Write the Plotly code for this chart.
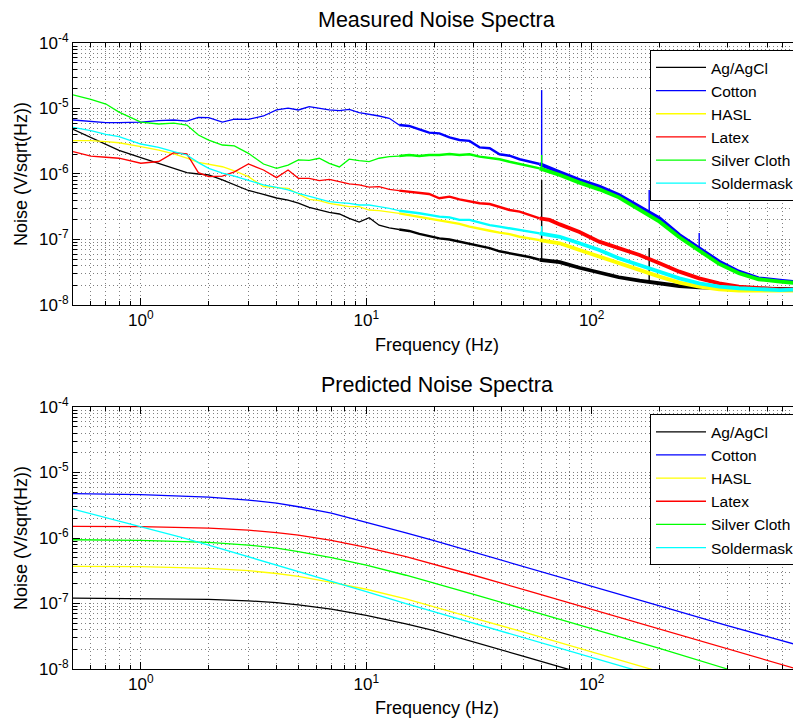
import plotly.graph_objects as go

# measured spectra, frequency grid shared by all materials (Hz)
F_MEAS = [0.5, 0.6, 0.7, 0.8, 1.0, 1.2, 1.4, 1.6, 1.8, 2.0, 2.3, 2.6, 3.0, 3.5, 4.0, 4.5, 5.0, 5.58,
          6.19, 6.85, 7.6, 8.4, 9.3, 10.3, 11.4, 12.65, 14.0, 15.5, 17.2, 19.0, 21.1, 23.4, 25.9,
          28.7, 31.8, 35.3, 39.0, 43.2, 47.9, 52.9, 58.8, 65.0, 72.2, 88.3, 108, 132, 163, 200,
          245, 300, 368, 450, 550, 685, 840]

AGAGCL_MEAS = [4.81e-6, 3.6e-6, 2.8e-6, 2.3e-6, 1.78e-6, 1.46e-6, 1.22e-6, 1.05e-6, 1.0e-6, 9.7e-7,
               8.1e-7, 6.8e-7, 5.6e-7, 4.9e-7, 4.3e-7, 4.0e-7, 3.6e-7, 3.1e-7,
               2.8e-7, 2.6e-7, 2.45e-7, 2.1e-7, 1.85e-7, 2.15e-7, 1.65e-7, 1.5e-7, 1.42e-7, 1.35e-7,
               1.22e-7, 1.14e-7, 1.04e-7, 1.0e-7, 9.3e-8, 8.6e-8, 8.0e-8, 7.4e-8, 6.6e-8, 6.2e-8,
               5.7e-8, 5.4e-8, 4.9e-8, 4.75e-8, 4.5e-8, 3.7e-8, 3.1e-8, 2.65e-8, 2.35e-8, 2.15e-8,
               1.95e-8, 1.86e-8, 1.8e-8, 1.8e-8, 1.78e-8, 1.73e-8, 1.73e-8]
COTTON_MEAS = [6.67e-6, 6.29e-6, 6.08e-6, 6.08e-6, 6.2e-6, 6.52e-6, 6.67e-6, 6.4e-6, 7.33e-6, 7.25e-6,
               6.2e-6, 6.9e-6, 6.83e-6, 7.68e-6, 9.49e-6, 1.01e-5, 9.49e-6, 1.07e-5,
               1.01e-5, 9.5e-6, 9.27e-6, 9.7e-6, 8.63e-6, 8.24e-6, 7.68e-6, 7.08e-6, 5.6e-6, 5.41e-6,
               4.81e-6, 4.28e-6, 4.18e-6, 3.63e-6, 3.3e-6, 3.2e-6, 2.55e-6, 2.47e-6, 2.0e-6, 1.9e-6,
               1.68e-6, 1.54e-6, 1.42e-6, 1.22e-6, 1.06e-6, 8.1e-7, 6.41e-7, 4.78e-7, 3.17e-7, 2.1e-7,
               1.17e-7, 7.33e-8, 4.59e-8, 3.23e-8, 2.55e-8, 2.35e-8, 2.19e-8]
HASL_MEAS = [3.23e-6, 3.23e-6, 3.11e-6, 3.0e-6, 2.61e-6, 2.32e-6, 2.02e-6, 1.75e-6, 1.5e-6, 1.42e-6,
             1.29e-6, 1.12e-6, 9.1e-7, 6.4e-7, 6.26e-7, 6.05e-7, 4.95e-7, 4.1e-7,
             3.92e-7, 3.57e-7, 3.36e-7, 3.17e-7, 3.17e-7, 2.82e-7, 2.75e-7, 2.66e-7, 2.51e-7, 2.37e-7,
             2.23e-7, 2.1e-7, 1.99e-7, 1.87e-7, 1.73e-7, 1.57e-7, 1.48e-7, 1.36e-7, 1.27e-7, 1.21e-7,
             1.1e-7, 1.04e-7, 9.8e-8, 9.27e-8, 8.75e-8, 6.92e-8, 5.47e-8, 4.33e-8, 3.42e-8, 2.71e-8,
             2.19e-8, 1.9e-8, 1.73e-8, 1.66e-8, 1.66e-8, 1.66e-8, 1.66e-8]
LATEX_MEAS = [2.19e-6, 1.88e-6, 1.8e-6, 1.74e-6, 1.46e-6, 1.55e-6, 2.11e-6, 2.02e-6, 1.05e-6, 9.1e-7,
              9.3e-7, 1.08e-6, 1.42e-6, 1.15e-6, 8.8e-7, 1.15e-6, 8.6e-7, 8.6e-7,
              7.91e-7, 8.3e-7, 7.64e-7, 7.04e-7, 6.8e-7, 6.3e-7, 6.41e-7, 5.83e-7, 5.57e-7, 5.37e-7,
              5.19e-7, 4.95e-7, 4.26e-7, 4.51e-7, 4.1e-7, 3.78e-7, 3.57e-7, 3.48e-7, 3.1e-7, 2.82e-7,
              2.66e-7, 2.37e-7, 2.1e-7, 1.99e-7, 1.7e-7, 1.3e-7, 9.27e-8, 7.33e-8, 5.8e-8, 4.33e-8,
              3.23e-8, 2.55e-8, 2.14e-8, 1.9e-8, 1.8e-8, 1.73e-8, 1.73e-8]
SILVER_MEAS = [1.61e-5, 1.38e-5, 1.17e-5, 8.8e-6, 6.2e-6, 5.8e-6, 6.0e-6, 5.6e-6, 3.94e-6, 3.3e-6,
               2.77e-6, 2.68e-6, 2.07e-6, 1.42e-6, 1.22e-6, 1.37e-6, 1.64e-6, 1.61e-6,
               1.74e-6, 1.45e-6, 1.28e-6, 1.68e-6, 1.6e-6, 1.54e-6, 1.74e-6, 1.84e-6, 1.88e-6, 1.95e-6,
               1.88e-6, 1.95e-6, 1.95e-6, 2.02e-6, 1.95e-6, 2.0e-6, 1.84e-6, 1.74e-6, 1.68e-6, 1.54e-6,
               1.42e-6, 1.32e-6, 1.22e-6, 1.09e-6, 9.66e-7, 7.38e-7, 5.83e-7, 4.4e-7, 2.89e-7, 1.87e-7,
               1.08e-7, 6.75e-8, 4.23e-8, 3.05e-8, 2.47e-8, 2.27e-8, 2.14e-8]
SOLDER_MEAS = [5.16e-6, 4.59e-6, 4.04e-6, 3.71e-6, 2.87e-6, 2.55e-6, 2.19e-6, 1.95e-6, 1.49e-6, 1.22e-6,
               1.03e-6, 9.3e-7, 8.0e-7, 6.8e-7, 6.26e-7, 5.7e-7, 5.07e-7, 4.6e-7,
               4.1e-7, 3.78e-7, 3.65e-7, 3.57e-7, 3.36e-7, 3.36e-7, 3.17e-7, 2.99e-7, 2.75e-7, 2.66e-7,
               2.51e-7, 2.37e-7, 2.23e-7, 2.18e-7, 1.99e-7, 1.99e-7, 1.81e-7, 1.66e-7, 1.57e-7, 1.48e-7,
               1.4e-7, 1.32e-7, 1.24e-7, 1.17e-7, 1.1e-7, 8.75e-8, 6.92e-8, 5.16e-8, 4.08e-8, 3.23e-8,
               2.55e-8, 2.14e-8, 1.9e-8, 1.8e-8, 1.73e-8, 1.69e-8, 1.73e-8]

# mains pickup spikes (60 Hz and harmonics)
F_SPIKE = [60, 180, 300]
AGAGCL_SPIKE_TOP = [8.1e-7, 7.4e-8, None]
AGAGCL_SPIKE_BASE = [4.8e-8, 2.3e-8, None]
COTTON_SPIKE_TOP = [1.91e-5, 5.7e-7, 1.26e-7]
COTTON_SPIKE_BASE = [1.35e-6, 2.6e-7, 7.3e-8]
SILVER_SPIKE_TOP = [1.95e-6, None, None]
SILVER_SPIKE_BASE = [1.2e-6, None, None]
SOLDER_SPIKE_TOP = [1.6e-7, None, None]
SOLDER_SPIKE_BASE = [1.2e-7, None, None]

# predicted spectra
F_PRED = [0.5, 1, 2, 3, 4, 5, 7, 10, 15, 20, 30, 50, 100, 200, 400, 840]
AGAGCL_PRED = [1.21e-7, 1.2e-7, 1.16e-7, 1.1e-7, 1.03e-7, 9.5e-8, 8.2e-8, 6.6e-8, 4.9e-8, 3.85e-8,
               2.6e-8, 1.56e-8, 7.8e-9, None, None, None]
COTTON_PRED = [4.75e-6, 4.6e-6, 4.2e-6, 3.8e-6, 3.4e-6, 3.0e-6, 2.4e-6, 1.75e-6, 1.2e-6, 9.1e-7,
               6.1e-7, 3.7e-7, 1.85e-7, 9.2e-8, 4.6e-8, 2.27e-8]
HASL_PRED = [3.7e-7, 3.65e-7, 3.45e-7, 3.17e-7, 2.87e-7, 2.6e-7, 2.1e-7, 1.65e-7, 1.18e-7, 9.0e-8,
             6.0e-8, 3.65e-8, 1.82e-8, 9.1e-9, None, None]
LATEX_PRED = [1.51e-6, 1.49e-6, 1.42e-6, 1.32e-6, 1.21e-6, 1.11e-6, 9.2e-7, 7.2e-7, 5.2e-7, 4.0e-7,
              2.7e-7, 1.63e-7, 8.2e-8, 4.1e-8, 2.05e-8, 9.7e-9]
SILVER_PRED = [9.4e-7, 9.2e-7, 8.6e-7, 7.8e-7, 7.0e-7, 6.2e-7, 5.0e-7, 3.85e-7, 2.7e-7, 2.06e-7,
               1.38e-7, 8.3e-8, 4.15e-8, 2.07e-8, 1.0e-8, None]
SOLDER_PRED_F = [0.5, 0.7, 1, 1.5, 2, 3, 4, 5, 7, 10, 15, 20, 30, 50, 100, 200]
SOLDER_PRED = [2.77e-6, 2.05e-6, 1.5e-6, 1.03e-6, 7.8e-7, 5.2e-7, 3.9e-7, 3.1e-7, 2.2e-7, 1.52e-7,
               1.0e-7, 7.5e-8, 5.0e-8, 3.0e-8, 1.5e-8, 7.5e-9]

FONT = "Liberation Sans, Arial, Helvetica, sans-serif"
GRID = "rgba(0,0,0,0.5)"

fig = go.Figure()

# (low, high, width) - the measured traces get dense with noise at high frequency
tiers = [(0, 14.0, 1.3), (14.0, 58.8, 2.4), (58.8, 1e4, 3.8)]


def add_measured(name, vals, color, spike_top=None, spike_base=None):
    first = True
    for lo, hi, w in tiers:
        xs = [f for f, v in zip(F_MEAS, vals) if lo <= f <= hi]
        ys = [v for f, v in zip(F_MEAS, vals) if lo <= f <= hi]
        fig.add_trace(go.Scatter(x=xs, y=ys, mode="lines", name=name, legend="legend",
                                 line=dict(color=color, width=w),
                                 showlegend=first, xaxis="x", yaxis="y"))
        first = False
    if spike_top:
        for f, t, b in zip(F_SPIKE, spike_top, spike_base):
            if t is None:
                continue
            fig.add_trace(go.Scatter(x=[f, f], y=[b, t], mode="lines", showlegend=False,
                                     line=dict(color=color, width=1.4), xaxis="x", yaxis="y"))


def add_predicted(name, fs, vals, color):
    fig.add_trace(go.Scatter(x=fs, y=vals, mode="lines", name=name, legend="legend2",
                             line=dict(color=color, width=1.3), xaxis="x2", yaxis="y2"))


add_measured("Ag/AgCl", AGAGCL_MEAS, "#000000", AGAGCL_SPIKE_TOP, AGAGCL_SPIKE_BASE)
add_measured("Cotton", COTTON_MEAS, "#0000FF", COTTON_SPIKE_TOP, COTTON_SPIKE_BASE)
add_measured("HASL", HASL_MEAS, "#FFFF00")
add_measured("Latex", LATEX_MEAS, "#FF0000")
add_measured("Silver Cloth", SILVER_MEAS, "#00FF00", SILVER_SPIKE_TOP, SILVER_SPIKE_BASE)
add_measured("Soldermask", SOLDER_MEAS, "#00FFFF", SOLDER_SPIKE_TOP, SOLDER_SPIKE_BASE)

add_predicted("Ag/AgCl", F_PRED, AGAGCL_PRED, "#000000")
add_predicted("Cotton", F_PRED, COTTON_PRED, "#0000FF")
add_predicted("HASL", F_PRED, HASL_PRED, "#FFFF00")
add_predicted("Latex", F_PRED, LATEX_PRED, "#FF0000")
add_predicted("Silver Cloth", F_PRED, SILVER_PRED, "#00FF00")
add_predicted("Soldermask", SOLDER_PRED_F, SOLDER_PRED, "#00FFFF")

x_minor = [0.6, 0.7, 0.8, 0.9] + [k * d for d in (1, 10, 100) for k in range(2, 10)]
y_minor = [k * 10.0 ** e for e in range(-8, -4) for k in range(2, 10)]


def xaxis(anchor):
    return dict(type="log", range=[-0.30103, 2.9243], anchor=anchor, automargin=False,
                tickvals=[1, 10, 100], ticktext=["10<sup>0</sup>", "10<sup>1</sup>", "10<sup>2</sup>"],
                showline=True, linecolor="black", linewidth=1, mirror="ticks",
                ticks="inside", ticklen=7, tickcolor="black",
                showgrid=True, gridcolor=GRID, griddash="1px,3px", gridwidth=1, zeroline=False,
                tickfont=dict(family=FONT, size=17, color="black"),
                minor=dict(tickmode="array", tickvals=x_minor, ticks="inside", ticklen=4,
                           tickcolor="black", showgrid=True, gridcolor=GRID,
                           griddash="1px,3px", gridwidth=1))


def yaxis(domain, anchor):
    return dict(type="log", range=[-8, -4], domain=domain, anchor=anchor, automargin=False,
                tickvals=[1e-8, 1e-7, 1e-6, 1e-5, 1e-4],
                ticktext=["10<sup>-8</sup>", "10<sup>-7</sup>", "10<sup>-6</sup>",
                          "10<sup>-5</sup>", "10<sup>-4</sup>"],
                showline=True, linecolor="black", linewidth=1, mirror="ticks",
                ticks="inside", ticklen=7, tickcolor="black",
                showgrid=True, gridcolor=GRID, griddash="1px,3px", gridwidth=1, zeroline=False,
                tickfont=dict(family=FONT, size=17, color="black"),
                minor=dict(tickmode="array", tickvals=y_minor, ticks="inside", ticklen=4,
                           tickcolor="black", showgrid=True, gridcolor=GRID,
                           griddash="1px,3px", gridwidth=1))


legend_style = dict(bgcolor="white", bordercolor="black", borderwidth=1,
                    font=dict(family=FONT, size=15.5, color="black"),
                    xanchor="right", x=1.0, yanchor="top", itemwidth=50,
                    tracegroupgap=0, traceorder="normal")

ann_font = dict(family=FONT, color="black")
ann_common = dict(xref="paper", yref="paper", showarrow=False, xanchor="center", yanchor="middle")

# the page body has an 8px margin, so the figure is 8px smaller than the window
fig.update_layout(
    width=793, height=711,
    margin=dict(l=65, r=1, t=35, b=50),
    paper_bgcolor="white", plot_bgcolor="white",
    xaxis=xaxis("y"), yaxis=yaxis([0.5815, 1.0], "x"),
    xaxis2=xaxis("y2"), yaxis2=yaxis([0.0, 0.4185], "x2"),
    legend=dict(legend_style, y=0.989),
    legend2=dict(legend_style, y=0.407),
    annotations=[
        dict(ann_common, text="Measured Noise Spectra", x=0.5, y=1.0367, font=dict(ann_font, size=21.5)),
        dict(ann_common, text="Predicted Noise Spectra", x=0.5, y=0.4537, font=dict(ann_font, size=21.5)),
        dict(ann_common, text="Frequency (Hz)", x=0.5, y=0.5176, font=dict(ann_font, size=18)),
        dict(ann_common, text="Frequency (Hz)", x=0.5, y=-0.0623, font=dict(ann_font, size=18)),
        dict(ann_common, text="Noise (V/sqrt(Hz))", x=-0.0715, y=0.7907, textangle=-90,
             font=dict(ann_font, size=18)),
        dict(ann_common, text="Noise (V/sqrt(Hz))", x=-0.0715, y=0.2093, textangle=-90,
             font=dict(ann_font, size=18)),
    ],
)

fig.write_html("out.html")
